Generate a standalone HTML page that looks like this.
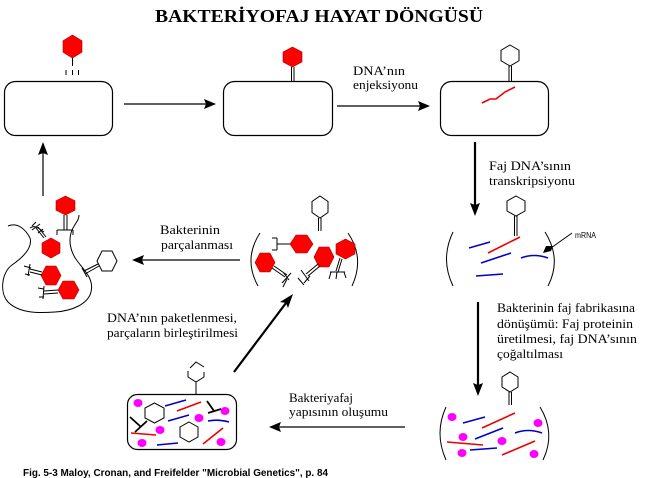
<!DOCTYPE html>
<html><head><meta charset="utf-8">
<style>
html,body{margin:0;padding:0;background:#fff;}
svg{display:block;}
.t{font-family:"Liberation Serif",serif;font-size:13px;fill:#000;}
</style></head>
<body>
<svg width="648" height="478" viewBox="0 0 648 478" xmlns="http://www.w3.org/2000/svg">
<rect width="648" height="478" fill="#fff"/>
<!-- Title -->
<text x="155" y="22" font-family="Liberation Serif, serif" font-weight="bold" font-size="18" textLength="328" lengthAdjust="spacingAndGlyphs">BAKTERİYOFAJ HAYAT DÖNGÜSÜ</text>

<g fill="none" stroke="#000" stroke-width="1.2">
<rect x="4.5" y="81.5" width="108" height="54" rx="11"/>
<rect x="223.5" y="81.5" width="109" height="54" rx="11"/>
<rect x="440.5" y="81.5" width="108" height="54" rx="11"/>
<rect x="127.5" y="394.5" width="109" height="55" rx="10"/>
</g>

<!-- Phage 1 -->
<polygon points="72.5,35 82,40.75 82,52.25 72.5,58 63,52.25 63,40.75" fill="#f00" stroke="#a00" stroke-width="0.6"/>
<g stroke="#000" stroke-width="1">
<line x1="72.5" y1="58" x2="72.5" y2="66"/>
<line x1="66" y1="70" x2="66" y2="75"/>
<line x1="72.5" y1="70" x2="72.5" y2="75"/>
<line x1="78.5" y1="70" x2="78.5" y2="75"/>
</g>
<!-- Phage 2 -->
<polygon points="292.5,47 302,52 302,62 292.5,67 283,62 283,52" fill="#f00" stroke="#a00" stroke-width="0.6"/>
<g stroke="#000" stroke-width="1">
<line x1="291.5" y1="67" x2="291.5" y2="81"/>
<line x1="294" y1="67" x2="294" y2="81"/>
</g>
<!-- Phage 3 -->
<polygon points="510,45 519,50.25 519,60.75 510,66 501,60.75 501,50.25" fill="none" stroke="#000" stroke-width="1"/>
<g stroke="#000" stroke-width="1">
<line x1="509" y1="66" x2="509" y2="81"/>
<line x1="511.5" y1="66" x2="511.5" y2="81"/>
</g>
<path d="M482,103 L490,99 L496,99 L505,92 L515,87" fill="none" stroke="#e00" stroke-width="1.6"/>

<!-- arrows top -->
<line x1="124" y1="104" x2="207" y2="104" stroke="#000" stroke-width="1.2"/>
<polygon points="216,104 204,99 206,104 204,109" fill="#000"/>
<line x1="337" y1="106" x2="421" y2="106" stroke="#000" stroke-width="1.2"/>
<polygon points="430,106 418,101 420,106 418,111" fill="#000"/>

<text class="t" x="353" y="75" textLength="52" lengthAdjust="spacingAndGlyphs">DNA’nın</text>
<text class="t" x="353" y="89" textLength="65" lengthAdjust="spacingAndGlyphs">enjeksiyonu</text>

<!-- vertical arrow 1 -->
<line x1="475" y1="142" x2="475" y2="205" stroke="#000" stroke-width="2.2"/>
<polygon points="475,216 470,203 475,205 480,203" fill="#000"/>
<text class="t" x="489" y="170" textLength="82" lengthAdjust="spacingAndGlyphs">Faj DNA’sının</text>
<text class="t" x="489" y="185" textLength="86" lengthAdjust="spacingAndGlyphs">transkripsiyonu</text>

<!-- Box4 mRNA -->
<g fill="none" stroke="#000" stroke-width="1">
<path d="M453,232 Q440,259 453,286"/>
<path d="M545,232 Q562,259 548,286"/>
</g>
<polygon points="516,196 525,201 525,211 516,216 507,211 507,201" fill="none" stroke="#000" stroke-width="1"/>
<g stroke="#000" stroke-width="1">
<line x1="514.5" y1="216" x2="514.5" y2="236"/>
<line x1="517" y1="216" x2="517" y2="236"/>
</g>
<line x1="488" y1="253" x2="520" y2="237" stroke="#e00" stroke-width="1.6"/>
<g stroke="#00c" stroke-width="1.6" fill="none">
<line x1="469" y1="248" x2="490" y2="242"/>
<line x1="481" y1="263" x2="511" y2="253"/>
<line x1="476" y1="276" x2="503" y2="274"/>
<path d="M521,258 Q534,253 548,258"/>
</g>
<line x1="551" y1="248" x2="572" y2="233" stroke="#000" stroke-width="1"/>
<polygon points="543,253 546,246 553,246 551,251" fill="#000"/>
<text x="575" y="238" font-family="Liberation Sans, sans-serif" font-size="8" textLength="21" lengthAdjust="spacingAndGlyphs">mRNA</text>

<!-- vertical arrow 2 -->
<line x1="478" y1="302" x2="478" y2="385" stroke="#000" stroke-width="2.2"/>
<polygon points="478,396 473,383 478,385 483,383" fill="#000"/>
<text class="t" x="497" y="312" textLength="138" lengthAdjust="spacingAndGlyphs">Bakterinin faj fabrikasına</text>
<text class="t" x="497" y="328" textLength="136" lengthAdjust="spacingAndGlyphs">dönüşümü: Faj proteinin</text>
<text class="t" x="497" y="343" textLength="140" lengthAdjust="spacingAndGlyphs">üretilmesi, faj DNA’sının</text>
<text class="t" x="497" y="358" textLength="66" lengthAdjust="spacingAndGlyphs">çoğaltılması</text>

<!-- Box6 -->
<g fill="none" stroke="#000" stroke-width="1">
<path d="M446,407 Q434,433 446,460"/>
<path d="M540,407 Q556,433 543,460"/>
</g>
<polygon points="510,372 518,377 518,387 510,392 502,387 502,377" fill="none" stroke="#000" stroke-width="1"/>
<g stroke="#000" stroke-width="1">
<line x1="509" y1="392" x2="509" y2="405"/>
<line x1="511.5" y1="392" x2="511.5" y2="405"/>
</g>
<g fill="#f0f">
<ellipse cx="452" cy="417" rx="4.5" ry="4"/>
<ellipse cx="538" cy="423" rx="4.5" ry="4"/>
<ellipse cx="463" cy="437" rx="4.5" ry="4"/>
<ellipse cx="502" cy="441" rx="4.5" ry="4"/>
<ellipse cx="462" cy="453" rx="4.5" ry="4"/>
<ellipse cx="534" cy="454" rx="4.5" ry="4"/>
</g>
<g stroke-width="1.6" fill="none">
<line x1="463" y1="423" x2="485" y2="417" stroke="#00c"/>
<line x1="482" y1="428" x2="515" y2="413" stroke="#e00"/>
<line x1="475" y1="439" x2="503" y2="428" stroke="#00c"/>
<path d="M515,433 Q528,428 542,433" stroke="#00c"/>
<line x1="447" y1="442" x2="483" y2="445" stroke="#e00"/>
<line x1="470" y1="450" x2="497" y2="448" stroke="#00c"/>
<line x1="502" y1="455" x2="535" y2="441" stroke="#e00"/>
</g>

<!-- bottom arrow -->
<line x1="405" y1="427" x2="279" y2="427" stroke="#000" stroke-width="1.2"/>
<polygon points="269,427 281,422 279,427 281,432" fill="#000"/>
<text class="t" x="289" y="402" textLength="64" lengthAdjust="spacingAndGlyphs">Bakteriyafaj</text>
<text class="t" x="289" y="416" textLength="99" lengthAdjust="spacingAndGlyphs">yapısının oluşumu</text>

<!-- Box7 contents -->
<path d="M190,368 L196,362 L204,367 M204,372 L204,377 L196,382 L188,377 L188,371" fill="none" stroke="#000" stroke-width="1"/>
<line x1="196" y1="382" x2="196" y2="394" stroke="#000" stroke-width="1"/>
<polygon points="154.5,403 164,408 164,418 154.5,423 145,418 145,408" fill="none" stroke="#000" stroke-width="1"/>
<polygon points="189,422 198,427 198,437 189,442 180,437 180,427" fill="none" stroke="#000" stroke-width="1"/>
<g fill="#f0f">
<ellipse cx="138" cy="403" rx="4.5" ry="4"/>
<ellipse cx="225" cy="411" rx="4.5" ry="4"/>
<ellipse cx="199" cy="418" rx="4.5" ry="4"/>
<ellipse cx="160" cy="430" rx="4.5" ry="4"/>
<ellipse cx="142" cy="443" rx="4.5" ry="4"/>
<ellipse cx="221" cy="442" rx="4.5" ry="4"/>
</g>
<g stroke-width="1.6" fill="none">
<line x1="165" y1="406" x2="186" y2="400" stroke="#00c"/>
<line x1="177" y1="411" x2="201" y2="402" stroke="#e00"/>
<line x1="168" y1="421" x2="189" y2="415" stroke="#00c"/>
<path d="M208,421 Q218,419 229,422" stroke="#00c"/>
<line x1="131" y1="433" x2="156" y2="435" stroke="#e00"/>
<line x1="157" y1="445" x2="178" y2="443" stroke="#00c"/>
<line x1="203" y1="444" x2="223" y2="428" stroke="#e00"/>
</g>
<g stroke="#000" stroke-width="1.8">
<line x1="130" y1="417" x2="141" y2="427"/>
<line x1="135" y1="432" x2="147" y2="421"/>
<line x1="207" y1="401" x2="214" y2="411"/>
<line x1="208" y1="413" x2="221" y2="409"/>
</g>

<!-- diagonal arrow -->
<line x1="234" y1="372" x2="286" y2="303" stroke="#000" stroke-width="2.2"/>
<polygon points="293,294 280,302 286,303 288,308" fill="#000"/>
<text class="t" x="107" y="322" textLength="130" lengthAdjust="spacingAndGlyphs">DNA’nın paketlenmesi,</text>
<text class="t" x="107" y="337" textLength="131" lengthAdjust="spacingAndGlyphs">parçaların birleştirilmesi</text>

<!-- Mid assembly -->
<g fill="none" stroke="#000" stroke-width="1">
<path d="M260,233 Q243,259 258,286"/>
<path d="M348,233 Q365,258 352,286"/>
</g>
<polygon points="320,196 328,201.5 328,212.5 320,218 312,212.5 312,201.5" fill="none" stroke="#000" stroke-width="1"/>
<g stroke="#000" stroke-width="1">
<line x1="318.5" y1="218" x2="318.5" y2="231"/>
<line x1="321" y1="218" x2="321" y2="231"/>
</g>
<g fill="#f00" stroke="#a00" stroke-width="0.6">
<polygon points="290,244 296,235 307,235 313,244 307,253 296,253"/>
<polygon points="255,262.5 260,253 270,253 275,262.5 270,272 260,272"/>
<polygon points="314,257 319,247 329,247 334,257 329,267 319,267"/>
<polygon points="345.5,239 355,244 355,254 345.5,259 336,254 336,244"/>
</g>
<g stroke="#000" stroke-width="1" fill="none">
<path d="M290,244 L277,244 M277,238 L277,250 M272,238 L277,238 M272,250 L277,250"/>
<path d="M272,268 L285,277 M274,266 L287,275 M283,272 L289,280 M282,283 L291,273 M287,279 L283,287"/>
<path d="M318,264 L306,274 M320,266 L308,276 M301,270 L309,281 M304,283 L310,276 M298,278 L304,285"/>
<path d="M340,258 L336,271 M342,259 L338,272 M330,272 L345,272 M331,272 L329,279 M337,272 L336,279 M344,272 L346,278"/>
</g>

<!-- mid-left arrow -->
<line x1="240" y1="260" x2="142" y2="260" stroke="#000" stroke-width="1.2"/>
<polygon points="132,260 144,255 142,260 144,265" fill="#000"/>
<text class="t" x="160" y="234" textLength="60" lengthAdjust="spacingAndGlyphs">Bakterinin</text>
<text class="t" x="161" y="249" textLength="72" lengthAdjust="spacingAndGlyphs">parçalanması</text>

<!-- Lysed cell -->
<g fill="none" stroke="#000" stroke-width="1">
<path d="M8,226 C18,222 26,230 30,238 C33,248 22,258 12,265 C2,272 -1,292 8,302 C20,314 40,313 55,312 C72,311 88,304 91,292 C94,280 86,272 78,262 C70,252 68,240 72,230 C76,222 79,220 79,215"/>
<path d="M30,228 C36,224 40,230 44,232"/>
</g>
<polygon points="65.5,196 75,200.75 75,210.25 65.5,215 56,210.25 56,200.75" fill="#f00" stroke="#a00" stroke-width="0.6"/>
<g stroke="#000" stroke-width="1" fill="none">
<path d="M64,215 L64,230 M67,215 L67,230 M57,230 L73,230 M57,230 L57,235 M73,230 L73,235"/>
</g>
<g fill="#f00" stroke="#a00" stroke-width="0.6">
<polygon points="51,238 60,243 60,253 51,258 42,253 42,243"/>
<polygon points="41,275.5 46,266 56,266 61,275.5 56,285 46,285"/>
<polygon points="58,290 63,281 74,281 79,290 74,299 63,299"/>
</g>
<polygon points="97,261 102,251 112,251 117,261 112,271 102,271" fill="#fff" stroke="#000" stroke-width="1"/>
<g stroke="#000" stroke-width="1" fill="none">
<path d="M44,238 L36,228 M46,237 L38,227 M32,230 L40,224 M32,226 L36,222 M38,233 L43,229"/>
<path d="M42,272 L30,269 M42,275 L30,272 M30,264 L28,276 M24,266 L31,268 M25,274 L30,275"/>
<path d="M58,290 L44,291 M58,293 L44,294 M44,286 L43,299 M38,288 L44,289 M39,297 L44,297"/>
<path d="M98,264 L84,271 M99,266 L85,274 M82,268 L87,277"/>
</g>

<!-- left up arrow -->
<line x1="43" y1="196" x2="43" y2="152" stroke="#000" stroke-width="1.2"/>
<polygon points="43,142 38,155 43,153 48,155" fill="#000"/>

<!-- Footer -->
<text x="23" y="476" font-family="Liberation Sans Narrow, Liberation Sans, sans-serif" font-weight="bold" font-size="10" textLength="305" lengthAdjust="spacingAndGlyphs">Fig. 5-3  Maloy, Cronan, and Freifelder  "Microbial Genetics", p. 84</text>
</svg>
</body></html>
